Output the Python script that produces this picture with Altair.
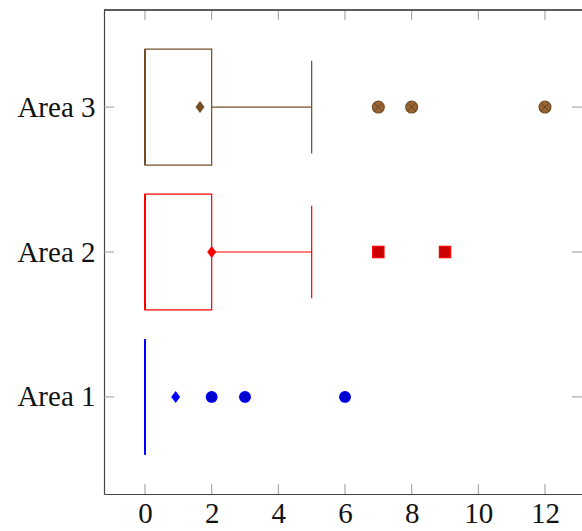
import altair as alt
import pandas as pd

# ---- data ----
areas = ["Area 1", "Area 2", "Area 3"]
positions = [1, 2, 3]
lower_whisker = [0, 0, 0]
lower_quartile = [0, 0, 0]
median = [0, 0, 0]
upper_quartile = [0, 2, 2]
upper_whisker = [0, 5, 5]
mean = [0.92, 2.0, 1.65]
outliers_area1 = [2, 3, 6]
outliers_area2 = [7, 9]
outliers_area3 = [7, 8, 12]
x_ticks = [0, 2, 4, 6, 8, 10, 12]

# ---- styles ----
box_colors = ["#0000ff", "#ff0000", "#734d26"]
out_fill = ["#0000cc", "#cc0000", "#996633"]
out_stroke = ["#0000cc", "#ff3333", "#734d26"]
out_shapes = ["circle", "square", "circle"]
FONT = "Liberation Serif"
FS = 29
W, H = 478, 484
TICK = 10
FRAME = "#444444"

stats = pd.DataFrame({
    "area": areas, "pos": positions, "lw": lower_whisker, "lq": lower_quartile,
    "med": median, "uq": upper_quartile, "uw": upper_whisker, "mean": mean,
})
rows = []
for a, p, vals in zip(areas, positions, [outliers_area1, outliers_area2, outliers_area3]):
    for v in vals:
        rows.append({"area": a, "pos": p, "val": v})
outl = pd.DataFrame(rows)
xt = pd.DataFrame({"v": x_ticks})
yt = pd.DataFrame({"v": positions})

xscale = alt.Scale(domain=[-1.23, 13.11], nice=False, zero=False)
yscale = alt.Scale(domain=[0.33, 3.67], nice=False, zero=False)

label_expr = " : ".join(
    f"datum.value == {p} ? '{a}'" for p, a in zip(positions, areas)
) + " : ''"

x_axis = alt.Axis(values=x_ticks, ticks=False, domain=True, domainColor=FRAME,
                  domainWidth=1.2, grid=False, title=None,
                  labelFont=FONT, labelFontSize=FS, labelColor="#111",
                  labelPadding=5, labelBaseline="top")
y_axis = alt.Axis(values=positions, ticks=False, domain=True, domainColor=FRAME,
                  domainWidth=1.2, grid=False, title=None,
                  labelExpr=label_expr, labelFont=FONT, labelFontSize=FS,
                  labelColor="#111", labelPadding=9)

box_color = alt.Color("area:N", scale=alt.Scale(domain=areas, range=box_colors), legend=None)

base = alt.Chart(stats).transform_calculate(
    ylo="datum.pos - 0.4", yhi="datum.pos + 0.4",
    wlo="datum.pos - 0.32", whi="datum.pos + 0.32",
)

box = base.mark_rect(fillOpacity=0, strokeWidth=1.2).encode(
    x=alt.X("lq:Q", scale=xscale, axis=x_axis),
    x2="uq:Q",
    y=alt.Y("ylo:Q", scale=yscale, axis=y_axis),
    y2="yhi:Q",
    stroke=box_color,
)
med_rule = base.mark_rule(strokeWidth=2).encode(
    x=alt.X("med:Q", scale=xscale, axis=x_axis),
    y=alt.Y("ylo:Q", scale=yscale, axis=y_axis), y2="yhi:Q",
    color=box_color,
)
whisk_up = base.mark_rule(strokeWidth=1.2).encode(
    x=alt.X("uq:Q", scale=xscale, axis=x_axis), x2="uw:Q",
    y=alt.Y("pos:Q", scale=yscale, axis=y_axis),
    color=box_color,
)
whisk_lo = base.mark_rule(strokeWidth=1.2).encode(
    x=alt.X("lw:Q", scale=xscale, axis=x_axis), x2="lq:Q",
    y=alt.Y("pos:Q", scale=yscale, axis=y_axis),
    color=box_color,
)
cap_up = base.mark_rule(strokeWidth=1.2).encode(
    x=alt.X("uw:Q", scale=xscale, axis=x_axis),
    y=alt.Y("wlo:Q", scale=yscale, axis=y_axis), y2="whi:Q",
    color=box_color,
)
cap_lo = base.mark_rule(strokeWidth=1.2).encode(
    x=alt.X("lw:Q", scale=xscale, axis=x_axis),
    y=alt.Y("wlo:Q", scale=yscale, axis=y_axis), y2="whi:Q",
    color=box_color,
)
mean_pt = base.mark_point(filled=True, opacity=1, size=144,
                          shape="M0,-1L0.75,0L0,1L-0.75,0Z").encode(
    x=alt.X("mean:Q", scale=xscale, axis=x_axis),
    y=alt.Y("pos:Q", scale=yscale, axis=y_axis),
    color=box_color,
)

out_base = alt.Chart(outl)
out_pts = out_base.mark_point(filled=True, opacity=1, strokeWidth=1.2).encode(
    x=alt.X("val:Q", scale=xscale, axis=x_axis),
    y=alt.Y("pos:Q", scale=yscale, axis=y_axis),
    fill=alt.Fill("area:N", scale=alt.Scale(domain=areas, range=out_fill), legend=None),
    stroke=alt.Stroke("area:N", scale=alt.Scale(domain=areas, range=out_stroke), legend=None),
    shape=alt.Shape("area:N", scale=alt.Scale(domain=areas, range=out_shapes), legend=None),
    size=alt.Size("area:N", scale=alt.Scale(domain=areas, range=[115, 140, 115]), legend=None),
)
out_cross = out_base.transform_filter(f"datum.area == '{areas[2]}'").mark_point(
    filled=False, shape="M-0.7,-0.7L0.7,0.7M-0.7,0.7L0.7,-0.7",
    size=115, stroke="#5a3a1c", strokeWidth=0.9, opacity=0.9,
).encode(
    x=alt.X("val:Q", scale=xscale, axis=x_axis),
    y=alt.Y("pos:Q", scale=yscale, axis=y_axis),
)

tick_style = dict(color="#999999", strokeWidth=1)
xt_bot = alt.Chart(xt).mark_rule(**tick_style).encode(
    x=alt.X("v:Q", scale=xscale, axis=x_axis), y=alt.value(H), y2=alt.value(H - TICK))
xt_top = alt.Chart(xt).mark_rule(**tick_style).encode(
    x=alt.X("v:Q", scale=xscale, axis=x_axis), y=alt.value(0), y2=alt.value(TICK))
yt_left = alt.Chart(yt).mark_rule(**tick_style).encode(
    y=alt.Y("v:Q", scale=yscale, axis=y_axis), x=alt.value(0), x2=alt.value(TICK))
yt_right = alt.Chart(yt).mark_rule(**tick_style).encode(
    y=alt.Y("v:Q", scale=yscale, axis=y_axis), x=alt.value(W), x2=alt.value(W - TICK))
top_line = alt.Chart(yt).mark_rule(color=FRAME, strokeWidth=1.2).encode(
    x=alt.value(0), x2=alt.value(W), y=alt.value(0))

chart = alt.layer(
    xt_bot, xt_top, yt_left, yt_right, top_line,
    box, med_rule, whisk_up, whisk_lo, cap_up, cap_lo, mean_pt, out_pts, out_cross,
).properties(
    width=W, height=H,
    autosize=alt.AutoSizeParams(type="none"),
    padding={"left": 104, "top": 10, "right": 0, "bottom": 37},
).configure_view(
    stroke=None
).resolve_scale(color="independent")

chart.save("out.html", embed_options={"renderer": "svg", "actions": False})
